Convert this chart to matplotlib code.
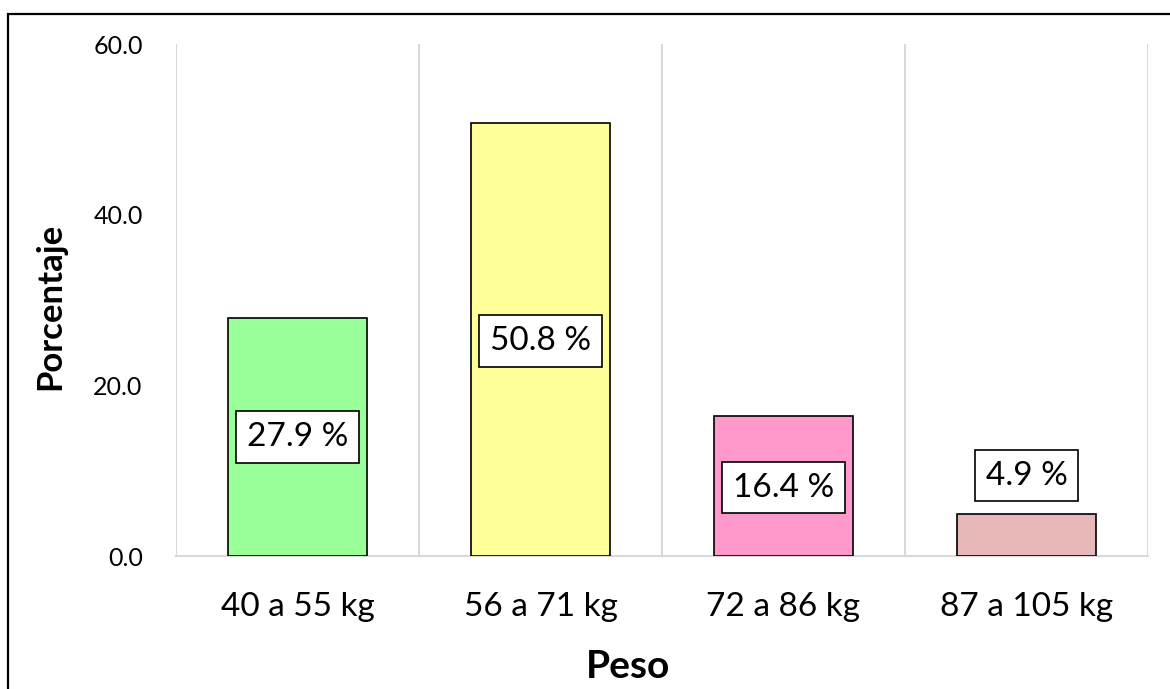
import matplotlib
matplotlib.use("Agg")
import matplotlib.pyplot as plt
from matplotlib.patches import Rectangle

categories = ["40 a 55 kg", "56 a 71 kg", "72 a 86 kg", "87 a 105 kg"]
percentages = [27.9, 50.8, 16.4, 4.9]
label_positions = [13.95, 25.2, 8.0, 9.4]
bar_colors = ["#99FF99", "#FFFF99", "#FF99CC", "#E6B8B7"]
y_ticks = [0, 20, 40, 60]
y_tick_labels = ["0.0", "20.0", "40.0", "60.0"]

plt.rcParams["font.family"] = ["Lato", "DejaVu Sans"]

fig = plt.figure(figsize=(11.7, 6.89), dpi=100)
fig.patch.set_facecolor("white")

# outer frame of the chart area (runs off the right and bottom edges)
fig.patches.append(Rectangle((8 / 1170, -0.1), 1.2, 1 - 14 / 689 + 0.1,
                             transform=fig.transFigure, fill=False,
                             edgecolor="black", linewidth=1.6))

ax = fig.add_axes([176 / 1170, 1 - 556 / 689, (1148 - 176) / 1170, (556 - 44) / 689])
x = list(range(len(categories)))
ax.bar(x, percentages, width=0.57, color=bar_colors, edgecolor="black",
       linewidth=1.2, zorder=3)

for xi, val, ypos in zip(x, percentages, label_positions):
    ax.text(xi, ypos, f"{val:.1f} %", ha="center", va="center", fontsize=24,
            zorder=5,
            bbox=dict(boxstyle="square,pad=0.32", facecolor="white",
                      edgecolor="black", linewidth=1.2))

ax.set_xlim(-0.5, len(categories) - 0.5)
ax.set_ylim(0, 60)
ax.set_yticks(y_ticks)
ax.set_yticklabels(y_tick_labels, fontsize=18)
ax.set_xticks(x)
ax.set_xticklabels(categories, fontsize=24)

# vertical separators between categories
for b in [i - 0.5 for i in range(len(categories) + 1)]:
    ax.axvline(b, color="#D9D9D9", linewidth=1.5, zorder=1)

for side in ["top", "right", "left"]:
    ax.spines[side].set_visible(False)
ax.spines["bottom"].set_color("#D9D9D9")
ax.spines["bottom"].set_linewidth(1.5)
ax.tick_params(axis="both", length=0)
ax.tick_params(axis="y", pad=24)
ax.tick_params(axis="x", pad=26)

fig.text(628 / 1170, 1 - 666 / 689, "Peso", ha="center", va="center",
         fontsize=28, fontweight="bold")
fig.text(50 / 1170, 1 - 306 / 689, "Porcentaje", ha="center", va="center",
         rotation=90, fontsize=25, fontweight="bold")

fig.savefig("out.png", dpi=100, facecolor="white")
